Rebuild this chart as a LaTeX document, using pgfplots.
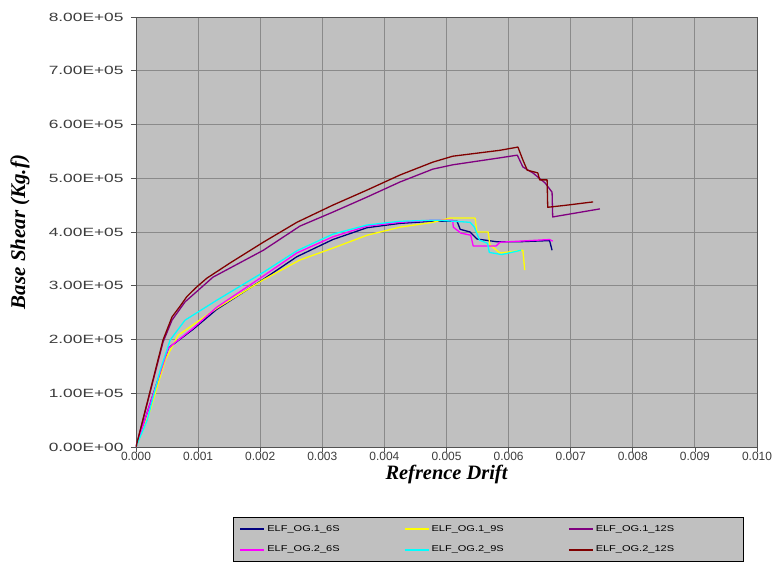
\documentclass[border=0pt]{standalone}
\usepackage{fontspec}
\setmainfont{Liberation Sans}
\newfontfamily\labelfont{Liberation Serif}
\newfontfamily\widefont[FakeStretch=1.3]{Liberation Sans}
\newfontfamily\ytickfont[FakeStretch=1.45]{Liberation Sans}
\usepackage{pgfplots}
\pgfplotsset{compat=1.18}

\definecolor{plotbg}{HTML}{C0C0C0}
\definecolor{gridc}{HTML}{8A8A8A}
\definecolor{ticktext}{HTML}{3C3C3C}
\definecolor{ognavy}{HTML}{000080}
\definecolor{ogyellow}{HTML}{FFFF00}
\definecolor{ogpurple}{HTML}{800080}
\definecolor{ogmagenta}{HTML}{FF00FF}
\definecolor{ogcyan}{HTML}{00FFFF}
\definecolor{ogmaroon}{HTML}{800000}

\begin{document}
\begin{tikzpicture}
\path[use as bounding box] (-136bp,-117bp) rectangle (640bp,447bp);
\begin{axis}[at={(0,0)},anchor=south west,
width=621bp,height=430bp,scale only axis,
xmin=0,xmax=0.01,ymin=0,ymax=800000,
xtick={0,0.001,0.002,0.003,0.004,0.005,0.006,0.007,0.008,0.009,0.01},
xticklabels={0.000,0.001,0.002,0.003,0.004,0.005,0.006,0.007,0.008,0.009,0.010},
ytick={0,100000,200000,300000,400000,500000,600000,700000,800000},
yticklabels={0.00E+00,1.00E+05,2.00E+05,3.00E+05,4.00E+05,5.00E+05,6.00E+05,7.00E+05,8.00E+05},
scaled ticks=false,
xtick pos=bottom,ytick pos=left,tick align=outside,
major tick length=5bp,
tick style={gridc!60!black,line width=0.8bp},
xticklabel style={font=\fontsize{12}{14}\selectfont,color=ticktext,yshift=3bp},
yticklabel style={font=\ytickfont\fontsize{12}{14}\selectfont,color=ticktext,xshift=-4bp},
axis background/.style={fill=plotbg},
grid=major,major grid style={gridc,line width=0.9bp},
axis line style={gridc!60!black,line width=0.9bp},
xlabel={\labelfont\bfseries\itshape Refrence Drift},
xlabel style={at={(axis description cs:0.5,-0.0767)},anchor=base,font=\fontsize{20.5}{24}\selectfont},
ylabel={\labelfont\bfseries\itshape Base Shear (Kg.f)},
ylabel style={at={(axis description cs:-0.187,0.5)},anchor=center,font=\fontsize{21}{24}\selectfont},
legend columns=3,
legend style={at={(axis description cs:0.1562,-0.163)},anchor=north west,
  fill=plotbg,draw=black,line width=0.8bp,
  font=\widefont\fontsize{8.5}{10}\selectfont,
  inner xsep=6bp,inner ysep=6bp,row sep=9bp,
  /tikz/every even column/.append style={column sep=62bp}},
legend image code/.code={\draw[mark repeat=2,mark phase=2,#1] plot coordinates {(0bp,0bp) (12bp,0bp) (24bp,0bp)};},
legend image post style={line width=2bp},
legend cell align=left,
every axis plot/.append style={line width=1.3bp,line join=round},
]
\addplot[ognavy] coordinates {(0,0) (0.00052,184000) (0.00092,219000) (0.0013,256000)
(0.00205,312000) (0.00259,354000) (0.00317,386000) (0.00372,408000) (0.00425,416000)
(0.00478,420000) (0.00517,420000) (0.00522,405000) (0.00538,400000) (0.00549,387000)
(0.0058,382000) (0.0062,382000) (0.00666,384000) (0.0067,366000)};
\addlegendentry{ELF\_OG.1\_6S}
\addplot[ogyellow] coordinates {(0,0) (0.00023,69000) (0.00047,162000) (0.00068,208000)
(0.0013,258000) (0.00205,311000) (0.00264,348000) (0.00317,370000) (0.00372,394000)
(0.00425,409000) (0.00478,418000) (0.00506,426000) (0.00546,426000) (0.00549,400000)
(0.00567,400000) (0.0057,376000) (0.00586,361000) (0.00623,366000) (0.00626,329000)};
\addlegendentry{ELF\_OG.1\_9S}
\addplot[ogpurple] coordinates {(0,0) (0.000435,195000) (0.00058,236000) (0.00079,270000)
(0.00124,316000) (0.00205,366000) (0.00264,411000) (0.00317,437000) (0.00372,465000)
(0.00425,493000) (0.00478,517000) (0.0051,525000) (0.00586,538000) (0.00614,543000)
(0.00623,521000) (0.00639,510000) (0.00659,491000) (0.0067,474000) (0.00671,428000)
(0.00747,443000)};
\addlegendentry{\makebox[140bp][l]{ELF\_OG.1\_12S}}
\addplot[ogmagenta] coordinates {(0,0) (0.00052,184000) (0.00092,221000) (0.0013,260000)
(0.00205,318000) (0.00259,361000) (0.00317,391000) (0.00372,411000) (0.00425,418000)
(0.00478,422000) (0.0051,422000) (0.00511,409000) (0.00523,398000) (0.00539,394000)
(0.00543,374000) (0.0058,374000) (0.00586,381000) (0.00618,383000) (0.00666,386000)
(0.00671,383000)};
\addlegendentry{ELF\_OG.2\_6S}
\addplot[ogcyan] coordinates {(0,0) (0.00018,50000) (0.00039,143000) (0.00055,199000)
(0.00079,236000) (0.0013,273000) (0.00205,325000) (0.00259,365000) (0.00317,396000)
(0.00372,413000) (0.00425,420000) (0.00485,422000) (0.00538,418000) (0.00545,409000)
(0.00553,385000) (0.00566,379000) (0.00569,362000) (0.00589,358000) (0.0062,366000)};
\addlegendentry{ELF\_OG.2\_9S}
\addplot[ogmaroon] coordinates {(0,0) (0.000435,199000) (0.00058,242000) (0.00071,262000)
(0.00082,280000) (0.00098,298000) (0.00114,314000) (0.00151,342000) (0.00205,381000)
(0.00259,418000) (0.00317,450000) (0.00372,478000) (0.00425,506000) (0.00478,530000)
(0.0051,541000) (0.00586,552000) (0.00615,558000) (0.00623,534000) (0.0063,515000)
(0.00647,510000) (0.0065,497000) (0.00662,497000) (0.00663,446000) (0.00694,450000)
(0.00736,456000)};
\addlegendentry{\makebox[140bp][l]{ELF\_OG.2\_12S}}
\end{axis}
\end{tikzpicture}
\end{document}
